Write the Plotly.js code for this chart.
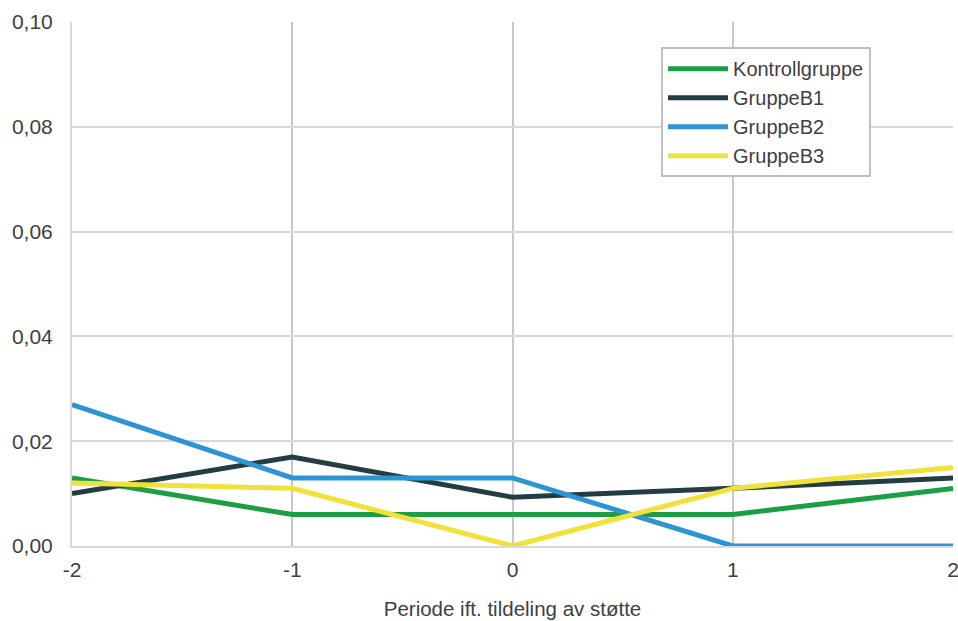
<!DOCTYPE html>
<html>
<head>
<meta charset="utf-8">
<script src="https://cdn.plot.ly/plotly-3.0.1.min.js"></script>
<style>
  html, body { margin: 0; padding: 0; background: #fff; }
  #chart { width: 958px; height: 621px; }
</style>
</head>
<body>
<div id="chart"></div>
<script>
// Periods relative to the grant of support
const periods = [-2, -1, 0, 1, 2];
const periodLabels = ['-2', '-1', '0', '1', '2'];

const seriesNames = ['Kontrollgruppe', 'GruppeB1', 'GruppeB2', 'GruppeB3'];
const kontrollgruppe = [0.013, 0.006, 0.006, 0.006, 0.011];
const gruppeB1 = [0.010, 0.017, 0.0093, 0.011, 0.013];
const gruppeB2 = [0.027, 0.013, 0.013, 0.000, 0.000];
const gruppeB3 = [0.012, 0.011, 0.000, 0.011, 0.015];

const yTicks = [0, 0.02, 0.04, 0.06, 0.08, 0.10];

const colors = ['#1c9e45', '#243d42', '#2e95d3', '#f0e23a'];
const values = [kontrollgruppe, gruppeB1, gruppeB2, gruppeB3];

const traces = values.map((v, i) => ({
  type: 'scatter',
  mode: 'lines',
  name: seriesNames[i],
  x: periods,
  y: v,
  line: { color: colors[i], width: 5 },
  hoverinfo: 'x+y+name'
}));

const layout = {
  width: 958,
  height: 621,
  separators: ',.',
  paper_bgcolor: '#ffffff',
  plot_bgcolor: '#ffffff',
  margin: { l: 72, r: 5, t: 22, b: 75 },
  font: { family: 'Liberation Sans, Arial, sans-serif', size: 21, color: '#404040' },
  xaxis: {
    range: [-2, 2],
    tickmode: 'array',
    tickvals: periods,
    ticktext: periodLabels,
    showgrid: true,
    gridcolor: '#c8c8c8',
    gridwidth: 2,
    zeroline: false,
    showline: true,
    linecolor: '#d9d9d9',
    linewidth: 2,
    ticks: '',
    ticklabelstandoff: 4,
    ticklabeloverflow: 'allow',
    tickfont: { size: 21, color: '#404040' },
    title: { text: 'Periode ift. tildeling av støtte', font: { size: 20.5, color: '#404040' }, standoff: 21 }
  },
  yaxis: {
    range: [0, 0.10],
    tickmode: 'array',
    tickvals: yTicks,
    tickformat: '.2f',
    showgrid: true,
    gridcolor: '#d9d9d9',
    gridwidth: 2,
    zeroline: false,
    showline: true,
    linecolor: '#d9d9d9',
    linewidth: 2,
    ticks: '',
    ticklabelstandoff: 13,
    ticklabeloverflow: 'allow',
    tickfont: { size: 21, color: '#404040' }
  },
  legend: {
    x: 0.6686,
    y: 0.952,
    xanchor: 'left',
    yanchor: 'top',
    bgcolor: '#ffffff',
    bordercolor: '#bfbfbf',
    borderwidth: 2,
    itemwidth: 60,
    font: { size: 20, color: '#404040' },
    tracegroupgap: 0
  },
  showlegend: true
};

Plotly.newPlot('chart', traces, layout, { displayModeBar: false, staticPlot: true });
</script>
</body>
</html>
